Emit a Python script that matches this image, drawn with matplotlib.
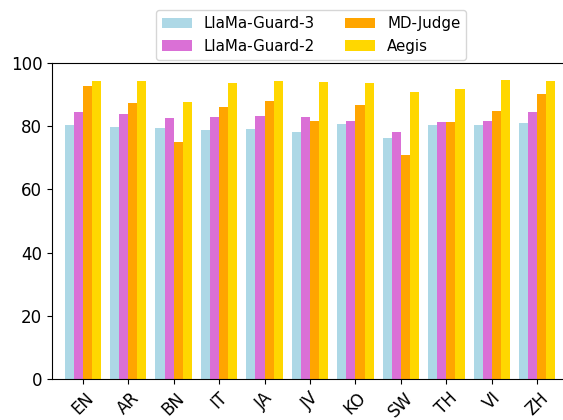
import numpy as np
import matplotlib
matplotlib.use('Agg')
import matplotlib.pyplot as plt

languages = ['EN', 'AR', 'BN', 'IT', 'JA', 'JV', 'KO', 'SW', 'TH', 'VI', 'ZH']

llama_guard_3 = [80.3, 79.7, 79.4, 78.8, 79.1, 78.1, 80.6, 76.3, 80.3, 80.3, 80.9]
llama_guard_2 = [84.6, 84.0, 82.6, 82.9, 83.2, 82.8, 81.8, 78.2, 81.4, 81.8, 84.4]
md_judge = [92.7, 87.2, 74.9, 86.1, 88.1, 81.6, 86.7, 70.8, 81.4, 84.9, 90.1]
aegis = [94.4, 94.4, 87.8, 93.6, 94.4, 94.1, 93.6, 90.7, 91.8, 94.6, 94.4]

series = [
    ('LlaMa-Guard-3', llama_guard_3, 'lightblue'),
    ('LlaMa-Guard-2', llama_guard_2, 'orchid'),
    ('MD-Judge', md_judge, 'orange'),
    ('Aegis', aegis, 'gold'),
]

fig = plt.figure(figsize=(5.63, 4.2), dpi=100)
ax = fig.add_axes([52 / 563, 41 / 420, 516 / 563, 316 / 420])

x = np.arange(len(languages))
width = 0.2
for i, (name, vals, color) in enumerate(series):
    ax.bar(x + (i - 1.5) * width, vals, width, label=name, color=color)

ax.set_xlim(-0.675, len(languages) - 1 + 0.675)
ax.set_ylim(0, 100)
ax.set_xticks(x)
ax.set_xticklabels(languages, rotation=45, fontsize=12)
ax.tick_params(axis='y', labelsize=12)

ax.legend(ncol=2, loc='upper center', bbox_to_anchor=(0.502, 1.19), fontsize=10.8)

fig.savefig('out.png', dpi=100)
